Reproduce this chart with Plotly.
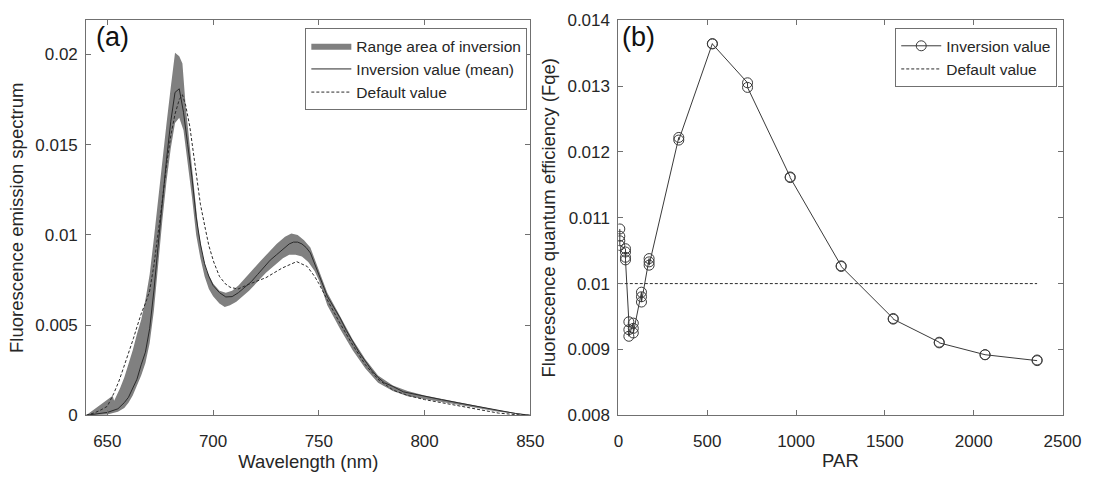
import plotly.graph_objects as go

# ---------------- Panel (a) data ----------------
mean_wl = [640, 645, 650, 655, 658, 660, 662, 664, 666, 668, 670, 672, 674, 676, 678, 680, 682, 684,
           686, 688, 690, 692, 694, 696, 698, 700, 703, 706, 709, 712, 715, 718, 721, 724, 727, 730,
           733, 736, 738, 740, 742, 744, 746, 748, 750, 752, 754, 757, 760, 763, 766, 769, 772, 775,
           778, 781, 785, 790, 795, 800, 808, 816, 825, 835, 843, 850]
mean_val = [0.0, 0.00008, 0.00016, 0.00036, 0.0007, 0.0010, 0.0015, 0.0020, 0.0028, 0.0035, 0.0048,
            0.0069, 0.0094, 0.0120, 0.0142, 0.0163, 0.0179, 0.0181,
            0.0168, 0.0150, 0.0132, 0.0110, 0.0095, 0.0084, 0.0077, 0.0072, 0.0068, 0.00656, 0.00658,
            0.0068, 0.0071, 0.0074, 0.0078, 0.0082, 0.0086, 0.0089,
            0.0092, 0.0095, 0.0096, 0.0096, 0.0095, 0.0093, 0.0090, 0.0084, 0.0078, 0.0072, 0.0066,
            0.0060, 0.0054, 0.0047, 0.0041, 0.0035, 0.0030, 0.0025,
            0.0021, 0.0018, 0.0016, 0.0013, 0.00118, 0.00105, 0.00087, 0.00069, 0.00048, 0.00025,
            0.0001, 0.0]

upper_wl = [640, 646, 652.5, 653.2, 656, 658, 660, 662, 664, 666, 668, 670, 672, 674, 676, 678, 680,
            682, 684, 685.5, 687, 689, 691, 693, 695, 697, 700, 703, 706, 709, 712, 715, 718, 722,
            726, 730, 734, 737, 740, 743, 746, 748, 750, 754, 760, 766, 772, 778, 785, 792, 800, 816,
            835, 850]
upper_val = [0.0, 0.0005, 0.00108, 0.0008, 0.0015, 0.0021, 0.0028, 0.0036, 0.0045, 0.0053, 0.0064,
             0.0078, 0.0098, 0.0120, 0.0142, 0.0162, 0.0182,
             0.0201, 0.0199, 0.0195, 0.0172, 0.0150, 0.0127, 0.0103, 0.0089, 0.0080, 0.0073, 0.0069,
             0.0068, 0.0069, 0.0072, 0.0076, 0.0080, 0.0085,
             0.0090, 0.0095, 0.0099, 0.01008, 0.0100, 0.0097, 0.0093, 0.0087, 0.0080, 0.0068, 0.0055,
             0.0042, 0.0031, 0.0022, 0.00165, 0.00135, 0.0011, 0.00073,
             0.00028, 0.0]

lower_wl = [640, 650, 655, 658, 660, 662, 664, 666, 668, 670, 672, 674, 676, 678, 680, 682, 684, 686,
            688, 690, 692, 694, 696, 698, 700, 703, 705.5, 708, 711, 714, 717, 721, 725, 729, 733,
            736, 739, 742, 745, 748, 750, 754, 760, 766, 772, 778, 785, 792, 800, 816, 835, 850]
lower_val = [0.0, 0.00005, 0.0002, 0.0004, 0.0007, 0.0011, 0.0016, 0.0022, 0.0029, 0.0040, 0.0058,
             0.0082, 0.0108, 0.0130, 0.0148, 0.0162, 0.0165, 0.0158,
             0.0140, 0.0121, 0.0100, 0.0087, 0.0077, 0.0070, 0.0066, 0.0062, 0.0060, 0.0061, 0.0063,
             0.0066, 0.0069, 0.0074, 0.0079, 0.0083, 0.0087,
             0.0089, 0.0089, 0.0088, 0.0085, 0.0080, 0.0075, 0.0061, 0.0048, 0.0036, 0.0026, 0.0018,
             0.00135, 0.00105, 0.00088, 0.00058, 0.0002, 0.0]

default_wl = [640, 644, 647, 650, 653, 655.5, 657.7, 660, 662.3, 664, 666.2, 668, 670, 672, 674, 676,
              678, 680, 682, 684, 685.5, 687, 689, 691, 692.6, 694, 696.4, 698, 700.3, 703, 705.7,
              708, 711.8, 717, 725, 732.6, 739.5, 744.5, 748, 750, 754, 760, 766, 772, 778, 785, 792,
              800, 808, 816, 825, 835, 843, 850]
default_val = [0.0, 0.00014, 0.0003, 0.0005, 0.0012, 0.0019, 0.00265, 0.0034, 0.00425, 0.0049, 0.0057,
               0.0062, 0.0069, 0.0083, 0.0100, 0.0119,
               0.0139, 0.0155, 0.0167, 0.0175, 0.01777, 0.0172, 0.0160, 0.0143, 0.0130, 0.0117,
               0.0103, 0.0094, 0.0085, 0.0077, 0.0073,
               0.0071, 0.0070, 0.00727, 0.00763, 0.00816, 0.00852, 0.00825, 0.0077, 0.0073, 0.0064,
               0.0051, 0.0039, 0.0028, 0.0020, 0.0014, 0.0011,
               0.00087, 0.0007, 0.00053, 0.00033, 0.00012, 0.00004, 0.0]

# ---------------- Panel (b) data ----------------
par = [8, 8, 8, 8, 40, 40, 40, 40, 59, 59, 59, 84, 84, 84, 130, 130, 130, 173, 173, 173,
       340, 340, 529, 529, 727, 727, 967, 967, 1254, 1254, 1547, 1547, 1806, 1806, 2064, 2064,
       2357, 2357]
fqe = [0.01083, 0.01072, 0.01065, 0.01058, 0.01053, 0.01048, 0.01040, 0.01036,
       0.00942, 0.00930, 0.00920, 0.00940, 0.00932, 0.00925,
       0.00987, 0.00980, 0.00972, 0.01038, 0.01033, 0.01028,
       0.01222, 0.01218, 0.013645, 0.01364, 0.01305, 0.01298, 0.01162, 0.01161,
       0.01027, 0.01026, 0.00947, 0.00946, 0.00911, 0.00910, 0.00892, 0.00892,
       0.00884, 0.00883]
default_par = [8, 2357]
default_fqe = [0.01, 0.01]

# ticks
xa_ticks = [650, 700, 750, 800, 850]
ya_ticks = [0, 0.005, 0.01, 0.015, 0.02]
ya_text = ["0", "0.005", "0.01", "0.015", "0.02"]
xb_ticks = [0, 500, 1000, 1500, 2000, 2500]
yb_ticks = [0.008, 0.009, 0.01, 0.011, 0.012, 0.013, 0.014]
yb_text = ["0.008", "0.009", "0.01", "0.011", "0.012", "0.013", "0.014"]

TXT = "#262626"
AX = "#707070"
FONT = "Liberation Sans, Arial, sans-serif"

fig = go.Figure()

band_x = upper_wl + lower_wl[::-1]
band_y = upper_val + lower_val[::-1]
fig.add_trace(go.Scatter(x=band_x, y=band_y, fill="toself", fillcolor="rgb(128,128,128)",
                         line=dict(width=0, color="rgb(128,128,128)"), mode="lines",
                         name="Range area of inversion", xaxis="x", yaxis="y", legend="legend"))
fig.add_trace(go.Scatter(x=mean_wl, y=mean_val, mode="lines",
                         line=dict(color="#2a2a2a", width=1),
                         name="Inversion value (mean)", xaxis="x", yaxis="y", legend="legend"))
fig.add_trace(go.Scatter(x=default_wl, y=default_val, mode="lines",
                         line=dict(color="#2a2a2a", width=1, dash="3px,2px"),
                         name="Default value", xaxis="x", yaxis="y", legend="legend"))

fig.add_trace(go.Scatter(x=par, y=fqe, mode="lines+markers",
                         line=dict(color="#3a3a3a", width=1),
                         marker=dict(symbol="circle-open", size=10, color="#3a3a3a",
                                     line=dict(width=1, color="#3a3a3a")),
                         name="Inversion value", xaxis="x2", yaxis="y2", legend="legend2"))
fig.add_trace(go.Scatter(x=default_par, y=default_fqe, mode="lines",
                         line=dict(color="#2a2a2a", width=1, dash="3px,2px"),
                         name="Default value", xaxis="x2", yaxis="y2", legend="legend2"))

W, H = 1105, 481
ytop = 1 - 11.7 / H
ybot = 1 - 423 / H

common = dict(showline=True, linecolor=AX, linewidth=1, mirror="ticks", ticks="inside",
              ticklen=5, tickcolor=AX, showgrid=False, zeroline=False,
              tickfont=dict(size=17, color=TXT, family=FONT))
TF = dict(size=18.5, color=TXT, family=FONT)

fig.update_layout(
    width=W, height=H,
    margin=dict(l=0, r=0, t=0, b=0),
    paper_bgcolor="white", plot_bgcolor="white",
    font=dict(family=FONT, color=TXT),
    xaxis=dict(domain=[83 / W, 537 / W], range=[640, 850], tickvals=xa_ticks,
               title=dict(text="Wavelength (nm)", font=TF, standoff=4),
               anchor="y", ticklabelstandoff=10, **common),
    yaxis=dict(domain=[ybot, ytop], range=[0, 0.0219], tickvals=ya_ticks, ticktext=ya_text,
               title=dict(text="Fluorescence emission spectrum", font=TF, standoff=6),
               anchor="x", ticklabelstandoff=4, **common),
    xaxis2=dict(domain=[627 / W, 1081 / W], range=[0, 2500], tickvals=xb_ticks,
                title=dict(text="PAR", font=TF, standoff=4),
                anchor="y2", ticklabelstandoff=10, **common),
    yaxis2=dict(domain=[ybot, ytop], range=[0.008, 0.014], tickvals=yb_ticks, ticktext=yb_text,
                title=dict(text="Fluorescence quantum efficiency (Fqe)", font=TF, standoff=6),
                anchor="x2", ticklabelstandoff=4, **common),
    legend=dict(x=307 / W, y=1 - 20 / H, xanchor="left", yanchor="top",
                bgcolor="white", bordercolor=AX, borderwidth=1,
                font=dict(size=15.5, color=TXT, family=FONT), itemwidth=40,
                tracegroupgap=0),
    legend2=dict(x=910 / W, y=1 - 20 / H, xanchor="left", yanchor="top",
                 bgcolor="white", bordercolor=AX, borderwidth=1,
                 font=dict(size=15.5, color=TXT, family=FONT), itemwidth=40,
                 tracegroupgap=0),
    showlegend=True,
)

fig.add_annotation(text="(a)", x=0.018, y=1.0, xref="x domain", yref="y domain",
                   xanchor="left", yanchor="top", showarrow=False,
                   font=dict(size=27, color="#111111", family=FONT))
fig.add_annotation(text="(b)", x=0.003, y=1.0, xref="x2 domain", yref="y2 domain",
                   xanchor="left", yanchor="top", showarrow=False,
                   font=dict(size=27, color="#111111", family=FONT))

fig.write_html("out.html")
